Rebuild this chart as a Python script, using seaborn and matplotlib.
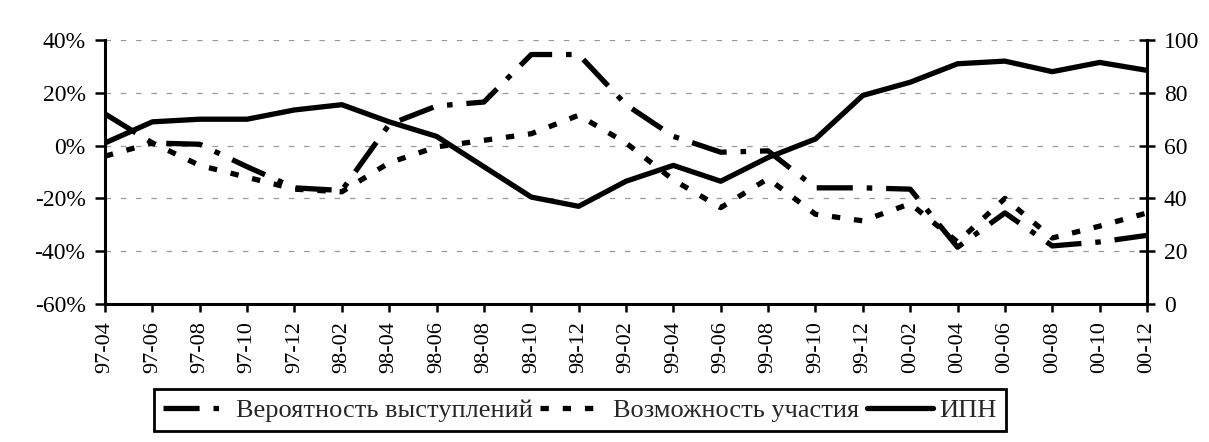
import numpy as np
import pandas as pd
import matplotlib
matplotlib.use("Agg")
import matplotlib.pyplot as plt
from matplotlib.ticker import FuncFormatter, FixedLocator
import seaborn as sns

# ---- data ----
periods = ["97-04", "97-06", "97-08", "97-10", "97-12",
           "98-02", "98-04", "98-06", "98-08", "98-10", "98-12",
           "99-02", "99-04", "99-06", "99-08", "99-10", "99-12",
           "00-02", "00-04", "00-06", "00-08", "00-10", "00-12"]
veroyatnost = [12, 1, 0.5, -8, -16, -17, 8, 15, 16.5, 34.5, 34.5,
               15.5, 3.5, -2.5, -2, -16, -16, -16.5, -38.5, -25.5, -38, -36.5, -34]
vozmozhnost = [-4, 1, -7.5, -12, -16.5, -17.5, -6.5, -0.5, 2, 4.5, 11.5,
               1, -13, -23.5, -12.5, -26, -28.5, -22, -36.5, -20, -35, -30.5, -25.5]
ipn = [61, 69, 70, 70, 73.5, 75.5, 69, 63.5, 52, 40.5, 37,
       46.5, 52.5, 46.5, 55.5, 62.5, 79, 84, 91, 92, 88, 91.5, 88.5]
left_ticks = [-60, -40, -20, 0, 20, 40]
right_ticks = [0, 20, 40, 60, 80, 100]
labels = ["Вероятность выступлений", "Возможность участия", "ИПН"]

df = pd.DataFrame({"idx": np.arange(len(periods)), "period": periods,
                   "ver": veroyatnost, "voz": vozmozhnost, "ipn": ipn})

sns.set_style("white")
plt.rcParams["font.family"] = ["Liberation Serif", "DejaVu Serif"]
plt.rcParams["lines.scale_dashes"] = False

fig = plt.figure(figsize=(12.09, 4.42), dpi=100)
ax = fig.add_axes([105 / 1209, 1 - 304 / 442, (1147 - 105) / 1209, (304 - 40) / 442])
ax2 = ax.twinx()

lw = 3.8
sns.lineplot(data=df, x="idx", y="ver", ax=ax, color="black", lw=lw,
             linestyle=(0, (26, 10, 4, 10)), label=labels[0], legend=False)
sns.lineplot(data=df, x="idx", y="voz", ax=ax, color="black", lw=lw,
             linestyle=(0, (6, 10)), label=labels[1], legend=False)
sns.lineplot(data=df, x="idx", y="ipn", ax=ax2, color="black", lw=lw,
             linestyle="-", label=labels[2], legend=False)

ax.set_xlim(0, len(periods) - 1)
ax.set_ylim(-60, 40)
ax2.set_ylim(0, 100)

# grid
for v in left_ticks[1:]:
    ax.axhline(v, color="#9a9a9a", lw=0.9, linestyle=(0, (4, 7)), zorder=0)

ax.set_xticks(df["idx"])
ax.set_xticklabels(periods, rotation=90)
ax.yaxis.set_major_locator(FixedLocator(left_ticks))
ax.yaxis.set_major_formatter(FuncFormatter(lambda v, p: f"{v:.0f}%"))
ax2.yaxis.set_major_locator(FixedLocator(right_ticks))
ax2.yaxis.set_major_formatter(FuncFormatter(lambda v, p: f"{v:.0f}"))

ax.set_xlabel("")
ax.set_ylabel("")
ax2.set_ylabel("")

for a in (ax, ax2):
    for s in a.spines.values():
        s.set_visible(False)
ax.spines["left"].set_visible(True)
ax.spines["bottom"].set_visible(True)
ax2.spines["right"].set_visible(True)
for s in (ax.spines["left"], ax.spines["bottom"], ax2.spines["right"]):
    s.set_linewidth(2.2)
    s.set_color("black")

ax.tick_params(axis="x", direction="out", length=6, width=1.8, pad=6,
               labelsize=16, colors="black", bottom=True)
ax.tick_params(axis="y", direction="out", length=7, width=1.8, pad=7,
               labelsize=17, colors="black", left=True)
ax2.tick_params(axis="y", direction="inout", length=12, width=1.8, pad=6,
                labelsize=17, colors="black", right=True)

h1, l1 = ax.get_legend_handles_labels()
h2, l2 = ax2.get_legend_handles_labels()
leg = fig.legend(h1 + h2, l1 + l2, loc="center", bbox_to_anchor=(580 / 1209, 1 - 410 / 442),
                 ncol=3, frameon=True, fancybox=False, edgecolor="black", framealpha=1,
                 fontsize=19, handlelength=2.5, handletextpad=0.25, columnspacing=0.3,
                 borderpad=0.35, borderaxespad=0)
leg.get_frame().set_linewidth(2)

fig.savefig("out.png", dpi=100)
